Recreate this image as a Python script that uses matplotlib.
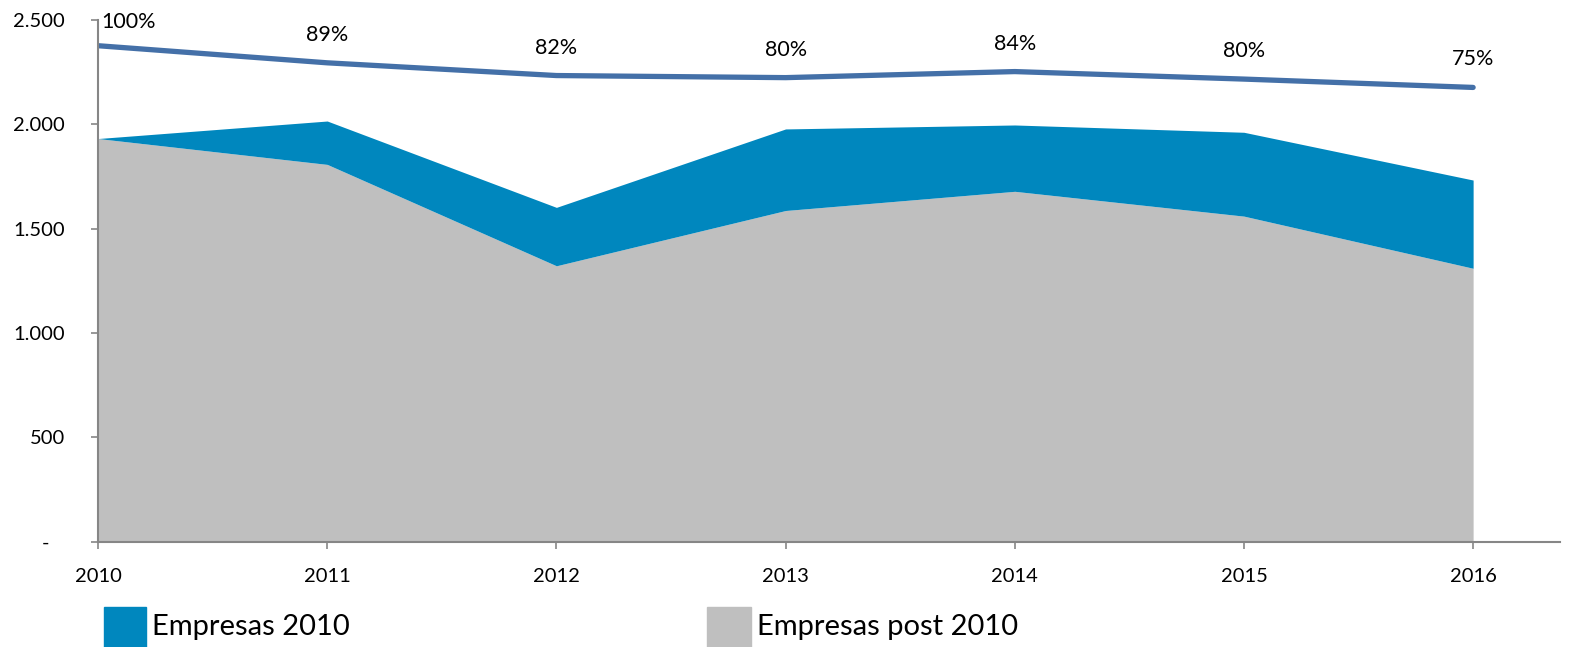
import numpy as np
import matplotlib.pyplot as plt
from matplotlib.patches import Rectangle
from matplotlib.ticker import FuncFormatter
import matplotlib as mpl

mpl.rcParams.update({
    "font.family": ["Lato", "DejaVu Sans"],
    "font.size": 13,
})

years = [2010, 2011, 2012, 2013, 2014, 2015, 2016]
post_2010 = [1932, 1808, 1322, 1587, 1679, 1560, 1310]     # gray, bottom
emp_2010 = [0, 208, 280, 391, 318, 402, 423]                # blue, stacked on top
total_line = [2377, 2295, 2234, 2224, 2253, 2217, 2177]
pct_labels = ["100%", "89%", "82%", "80%", "84%", "80%", "75%"]

gray = "#BFBFBF"
blue = "#0087BE"
line_col = "#4470A8"
axis_col = "#868686"

fig = plt.figure(figsize=(15.79, 6.47), dpi=100)
ax = fig.add_axes([0.0621, 0.163, 0.926, 0.806])

x = np.array(years)
base = np.array(post_2010)
top = base + np.array(emp_2010)
ax.fill_between(x, 0, base, color=gray, linewidth=0)
ax.fill_between(x, base, top, color=blue, linewidth=0)
ax.plot(x, total_line, color=line_col, linewidth=3.8, solid_capstyle="round")

# percentage labels above the line
for i, (xx, yy, lab) in enumerate(zip(years, total_line, pct_labels)):
    if i == 0:
        ax.annotate(lab, (xx, yy), xytext=(3, 24), textcoords="offset pixels",
                    ha="left", va="center", fontsize=15.5)
    else:
        ax.annotate(lab, (xx, yy), xytext=(0, 28), textcoords="offset pixels",
                    ha="center", va="center", fontsize=15.5)

ax.set_xlim(2010, 2016.38)
ax.set_ylim(0, 2500)
ax.set_xticks(years)
ax.set_yticks([0, 500, 1000, 1500, 2000, 2500])


def fmt(v, pos):
    if v == 0:
        return "-   "
    return f"{int(v):,}".replace(",", ".")


ax.yaxis.set_major_formatter(FuncFormatter(fmt))
ax.tick_params(axis="both", direction="out", length=5, width=1.2, color=axis_col,
               labelsize=14.5)
ax.tick_params(axis="y", pad=19)
ax.tick_params(axis="x", pad=14)

ax.spines["top"].set_visible(False)
ax.spines["right"].set_visible(False)
ax.spines["left"].set_color(axis_col)
ax.spines["bottom"].set_color(axis_col)
ax.spines["left"].set_linewidth(1.5)
ax.spines["bottom"].set_linewidth(1.5)

# legend drawn as figure patches (partly cut off at the bottom like the original)
W, H = 1579, 647
fig.patches.append(Rectangle((104 / W, 0), 42 / W, (647 - 607) / H,
                             transform=fig.transFigure, color=blue))
fig.text(152 / W, (647 - 627) / H, "Empresas 2010", fontsize=21, va="center")
fig.patches.append(Rectangle((707 / W, 0), 44 / W, (647 - 607) / H,
                             transform=fig.transFigure, color=gray))
fig.text(757 / W, (647 - 627) / H, "Empresas post 2010", fontsize=21, va="center")

plt.savefig("out.png", dpi=100)
